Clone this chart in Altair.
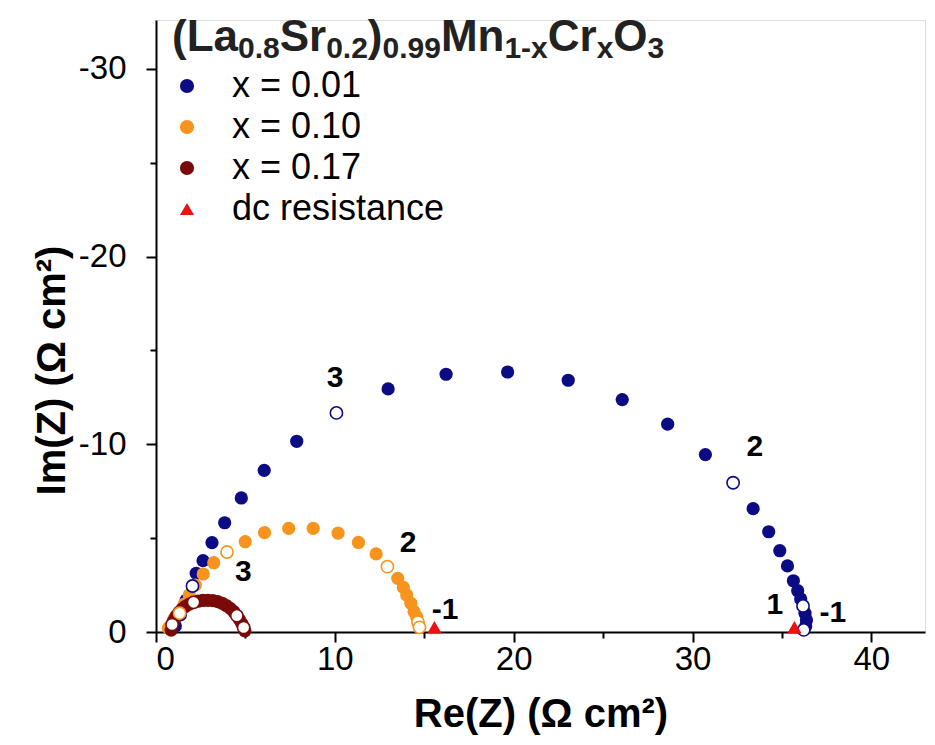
import altair as alt
import pandas as pd

# Impedance spectra, Re(Z) and Im(Z) in ohm cm^2
blue_re = [1.08, 1.36, 1.69, 2.04, 2.25, 2.63, 3.13, 3.84, 4.77, 6.05, 7.87, 10.09, 12.98, 16.22,
           19.66, 23.05, 26.07, 28.61, 30.72, 32.27, 33.39, 34.26, 34.88, 35.31, 35.64, 35.88,
           36.05, 36.18, 36.29, 36.37, 36.33, 36.22]
blue_im = [-0.32, -0.91, -1.70, -2.45, -3.13, -3.80, -4.76, -5.82, -7.14, -8.61, -10.16, -11.67,
           -12.95, -13.73, -13.85, -13.41, -12.38, -11.07, -9.45, -7.95, -6.57, -5.34, -4.33,
           -3.52, -2.73, -2.20, -1.76, -1.39, -1.00, -0.64, -0.32, -0.11]
blue_open = [3, 11, 19, 27, 31]

orange_re = [0.69, 0.97, 1.32, 1.58, 1.86, 2.20, 2.64, 3.23, 3.97, 4.99, 6.07, 7.42, 8.79, 10.18,
             11.32, 12.31, 12.94, 13.52, 13.83, 14.02, 14.25, 14.43, 14.58, 14.65, 14.73]
orange_im = [-0.21, -0.64, -1.00, -1.49, -1.97, -2.50, -3.09, -3.69, -4.26, -4.81, -5.29, -5.52,
             -5.52, -5.27, -4.77, -4.16, -3.48, -2.86, -2.38, -1.97, -1.53, -1.08, -0.80, -0.53,
             -0.25]
orange_open = [2, 8, 16, 23, 24]

red_re = [0.85, 0.90, 1.00, 1.12, 1.28, 1.45, 1.65, 1.87, 2.10, 2.35, 2.62, 2.90, 3.18, 3.45,
          3.70, 3.93, 4.15, 4.35, 4.52, 4.67, 4.80, 4.90, 4.97]
red_im = [-0.10, -0.40, -0.62, -0.84, -1.04, -1.22, -1.37, -1.49, -1.58, -1.64, -1.68, -1.69,
          -1.67, -1.62, -1.53, -1.41, -1.26, -1.08, -0.87, -0.66, -0.44, -0.24, -0.06]
red_open = [1, 8, 18, 21]

dc_re = [15.57, 35.70]
dc_im = [-0.25, -0.25]

ann_text = ["3", "2", "1", "-1", "3", "2", "-1"]
ann_re = [10.02, 33.49, 34.60, 37.85, 4.88, 14.10, 16.16]
ann_im = [-13.52, -9.86, -1.44, -1.00, -3.20, -4.74, -1.17]

series_names = ["x = 0.01", "x = 0.10", "x = 0.17", "dc resistance"]
series_colors = ["#0b0b84", "#f7941d", "#7a0a0a", "#ee1111"]
series_shapes = ["circle", "circle", "circle", "triangle-up"]

FONT = "Liberation Sans"
W, H = 769, 612

rows = []
for name, re_, im_, op in [(series_names[0], blue_re, blue_im, blue_open),
                           (series_names[1], orange_re, orange_im, orange_open),
                           (series_names[2], red_re, red_im, red_open)]:
    for i, (a, b) in enumerate(zip(re_, im_)):
        rows.append({"series": name, "re": a, "im": b, "open": i in op})
spectra = pd.DataFrame(rows)
dc = pd.DataFrame({"series": series_names[3], "re": dc_re, "im": dc_im})
ann = pd.DataFrame({"t": ann_text, "re": ann_re, "im": ann_im})

x_scale = alt.Scale(domain=[0, 43], nice=False, zero=False)
y_scale = alt.Scale(domain=[-32.6, 0], nice=False, zero=False, reverse=True)
color_scale = alt.Scale(domain=series_names, range=series_colors)
shape_scale = alt.Scale(domain=series_names, range=series_shapes)

tick_cond = {"condition": {"test": "datum.value % 10 === 0", "value": 10}, "value": 6}

x_axis = alt.Axis(
    values=[0, 5, 10, 15, 20, 25, 30, 35, 40],
    labelExpr="datum.value % 10 === 0 ? datum.label : ''",
    title="Re(Z) (Ω cm²)", grid=False, tickSize=tick_cond,
    labelFontSize=33, labelFont=FONT, labelColor="black", labelPadding=1,
    titleFontSize=40, titleFont=FONT, titleFontWeight="bold", titleColor="black",
    titlePadding=18, domainColor="black", domainWidth=2, tickColor="black", tickWidth=2,
)
y_axis = alt.Axis(
    values=[0, -5, -10, -15, -20, -25, -30],
    labelExpr="datum.value % 10 === 0 ? (datum.value === 0 ? '0' : '-' + abs(datum.value)) : ''",
    title="Im(Z) (Ω cm²)", grid=False, tickSize=tick_cond,
    labelFontSize=33, labelFont=FONT, labelColor="black", labelPadding=20,
    titleFontSize=40, titleFont=FONT, titleFontWeight="bold", titleColor="black",
    titlePadding=6, titleY=350, domainColor="black", domainWidth=2, tickColor="black",
    tickWidth=2,
)

legend = alt.Legend(
    title=None, orient="none", legendX=13, legendY=48, padding=0,
    symbolSize=200, symbolStrokeWidth=0, labelFontSize=36, labelFont=FONT,
    labelColor="black", labelOffset=27, rowPadding=5, labelLimit=0,
)

base = alt.Chart(spectra)

filled = base.transform_filter("!datum.open").mark_point(filled=True, size=175, opacity=1).encode(
    x=alt.X("re:Q", scale=x_scale, axis=x_axis),
    y=alt.Y("im:Q", scale=y_scale, axis=y_axis),
    color=alt.Color("series:N", scale=color_scale, legend=legend),
    shape=alt.Shape("series:N", scale=shape_scale, legend=legend),
)

hollow = base.transform_filter("datum.open").mark_point(
    filled=False, fill="white", fillOpacity=1, size=150, strokeWidth=1.6, opacity=1
).encode(
    x="re:Q", y="im:Q",
    color=alt.Color("series:N", scale=color_scale, legend=None),
)

dc_pts = alt.Chart(dc).mark_point(filled=True, size=210, opacity=1).encode(
    x="re:Q", y="im:Q",
    color=alt.Color("series:N", scale=color_scale, legend=legend),
    shape=alt.Shape("series:N", scale=shape_scale, legend=legend),
)

labels = alt.Chart(ann).mark_text(
    font=FONT, fontSize=30, fontWeight="bold", color="black", align="center", baseline="middle"
).encode(x="re:Q", y="im:Q", text="t:N")

# Formula heading built from normal-size and subscript pieces (Arial Bold advance widths)
adv = {"(": 333, ")": 333, "L": 611, "a": 556, "S": 667, "r": 389, "M": 833, "n": 611,
       "C": 722, "O": 778, ".": 278, "-": 333, "x": 556}
title_parts = [("(La", False), ("0.8", True), ("Sr", False), ("0.2", True), (")", False),
               ("0.99", True), ("Mn", False), ("1-x", True), ("Cr", False), ("x", True),
               ("O", False), ("3", True)]
MAIN_SIZE, SUB_SIZE = 44, 30
x0 = 16
heading = []
for txt, sub in title_parts:
    fs = SUB_SIZE if sub else MAIN_SIZE
    heading.append(alt.Chart(pd.DataFrame({"t": [txt]})).mark_text(
        font=FONT, fontWeight="bold", fontSize=fs, color="#222222", align="left",
        baseline="alphabetic"
    ).encode(x=alt.value(x0), y=alt.value(38 if sub else 31), text="t:N"))
    x0 += sum(adv.get(c, 556) for c in txt) / 1000 * fs

chart = alt.layer(filled, hollow, dc_pts, labels, *heading).properties(
    width=W, height=H,
    autosize=alt.AutoSizeParams(type="none"),
    padding={"left": 156, "top": 20, "right": 10, "bottom": 113},
).configure_view(stroke=None).configure(background="white")

chart.save("out.html", embed_options={"renderer": "svg", "actions": False})
